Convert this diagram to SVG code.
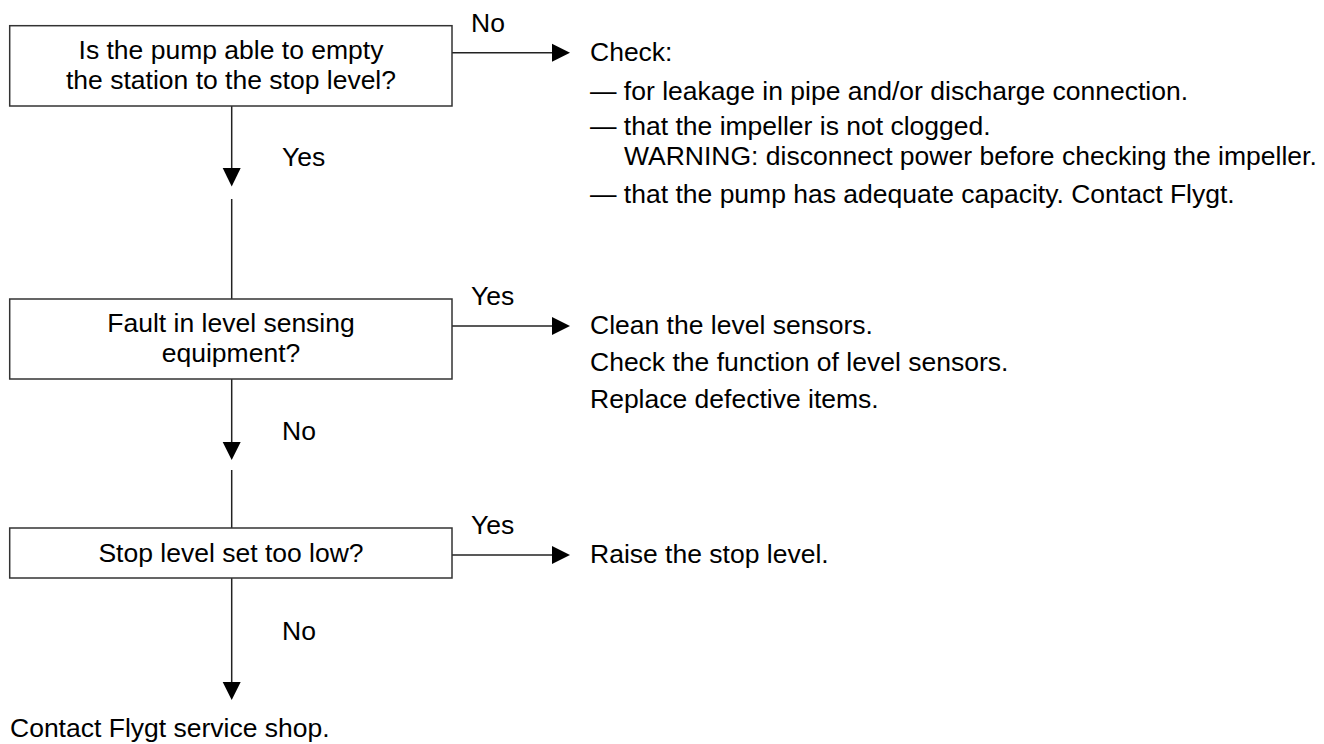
<svg xmlns="http://www.w3.org/2000/svg" width="1324" height="744" viewBox="0 0 1324 744">
<style>
text{font-family:"Liberation Sans",Arial,sans-serif;font-size:26.5px;fill:#000}
.c{text-anchor:middle}
.box{fill:#fff;stroke:#333;stroke-width:1.5}
.ln{stroke:#222;stroke-width:1.5;fill:none}
.hd{fill:#000}
</style>
<rect width="1324" height="744" fill="#fff"/>
<g id="connectors">
<line class="ln" x1="452" y1="52.7" x2="553" y2="52.7"/>
<polygon class="hd" points="552,43.7 570,52.7 552,61.7"/>
<line class="ln" x1="452" y1="326" x2="553" y2="326"/>
<polygon class="hd" points="552,317 570,326 552,335"/>
<line class="ln" x1="452" y1="555" x2="553" y2="555"/>
<polygon class="hd" points="552,546 570,555 552,564"/>
<line class="ln" x1="231.7" y1="106" x2="231.7" y2="169"/>
<polygon class="hd" points="222.7,168 240.7,168 231.7,186.5"/>
<line class="ln" x1="231.7" y1="199" x2="231.7" y2="299"/>
<line class="ln" x1="231.7" y1="379" x2="231.7" y2="443"/>
<polygon class="hd" points="222.7,442 240.7,442 231.7,460"/>
<line class="ln" x1="231.7" y1="470" x2="231.7" y2="528"/>
<line class="ln" x1="231.7" y1="578" x2="231.7" y2="683"/>
<polygon class="hd" points="222.7,682 240.7,682 231.7,700"/>
<text x="471" y="32">No</text>
<text x="282" y="166">Yes</text>
<text x="471" y="305">Yes</text>
<text x="282" y="440">No</text>
<text x="471" y="534">Yes</text>
<text x="282" y="640">No</text>
</g>
<g id="q1">
<rect class="box" x="9.7" y="25.7" width="442.3" height="80.3"/>
<text class="c" x="231" y="59">Is the pump able to empty</text>
<text class="c" x="231" y="89">the station to the stop level?</text>
</g>
<g id="q2">
<rect class="box" x="9.7" y="299" width="442.3" height="80"/>
<text class="c" x="231" y="332">Fault in level sensing</text>
<text class="c" x="231" y="362">equipment?</text>
</g>
<g id="q3">
<rect class="box" x="9.7" y="528" width="442.3" height="50"/>
<text class="c" x="231" y="562">Stop level set too low?</text>
</g>
<g id="a1">
<text x="590" y="61">Check:</text>
<text x="590" y="100">— for leakage in pipe and/or discharge connection.</text>
<text x="590" y="135">— that the impeller is not clogged.</text>
<text x="624" y="165">WARNING: disconnect power before checking the impeller.</text>
<text x="590" y="203">— that the pump has adequate capacity. Contact Flygt.</text>
</g>
<g id="a2">
<text x="590" y="334">Clean the level sensors.</text>
<text x="590" y="371">Check the function of level sensors.</text>
<text x="590" y="408">Replace defective items.</text>
</g>
<g id="a3">
<text x="590" y="563">Raise the stop level.</text>
</g>
<g id="end">
<text x="10" y="737">Contact Flygt service shop.</text>
</g>
</svg>
